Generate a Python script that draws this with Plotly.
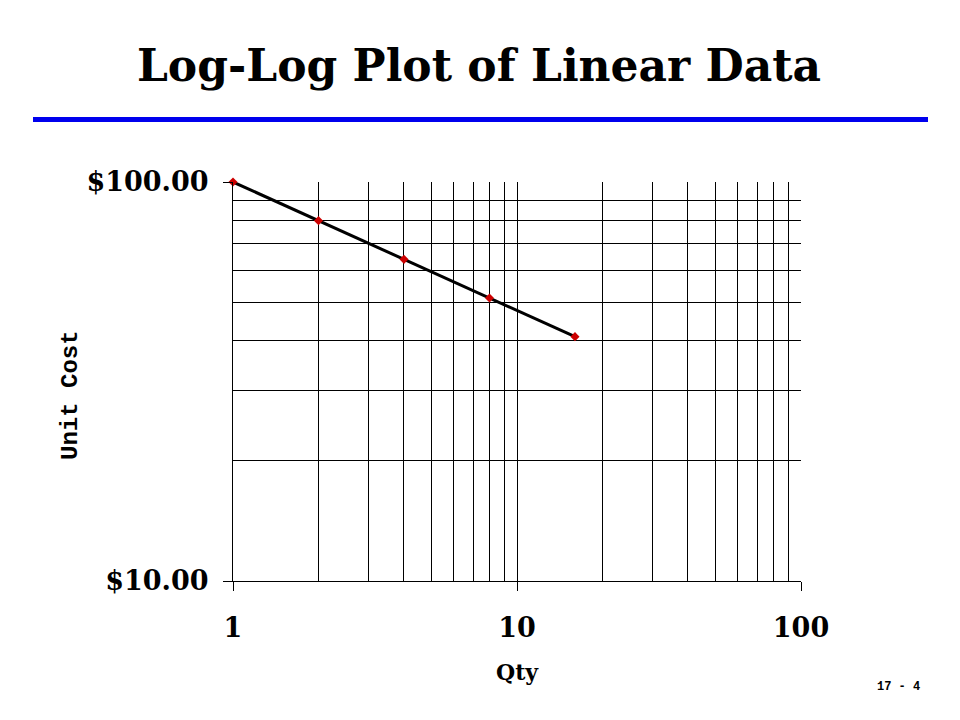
import plotly.graph_objects as go

qty = [1, 2, 4, 8, 16]
unit_cost = [100, 80, 64, 51.2, 40.96]
x_major = [1, 10, 100]
x_major_text = ["1", "10", "100"]
y_major = [10, 100]
y_major_text = ["$10.00", "$100.00"]
x_minor = [2, 3, 4, 5, 6, 7, 8, 9, 20, 30, 40, 50, 60, 70, 80, 90]
y_minor = [20, 30, 40, 50, 60, 70, 80, 90]

SERIF = "DejaVu Serif"
MONO = "Liberation Mono"
OFF = 8  # page body offset

L, R, T, B = 233 - OFF, 801 - OFF, 182 - OFF, 581 - OFF
W, H = R - L, B - T


def px(xp):
    return (xp - OFF - L) / W


def py(yp):
    return (B - (yp - OFF)) / H


fig = go.Figure()
fig.add_trace(go.Scatter(
    x=qty, y=unit_cost, mode="lines+markers",
    line=dict(color="black", width=3),
    marker=dict(symbol="diamond", size=7, color="#cc0000"),
    showlegend=False, cliponaxis=False,
))

axis_common = dict(
    type="log", ticks="outside", ticklen=9, tickcolor="black", tickwidth=1,
    showline=True, linecolor="black", linewidth=1,
    showgrid=True, gridcolor="black", gridwidth=1,
    tickfont=dict(family=SERIF, size=27, color="black", weight="bold"),
    zeroline=False,
)

fig.update_layout(
    width=960, height=720,
    paper_bgcolor="white", plot_bgcolor="white",
    margin=dict(l=L, r=960 - R, t=T, b=720 - B),
    title=dict(text="<b>Log-Log Plot of Linear Data</b>",
               x=(479 - OFF) / 960, xanchor="center", y=1 - (66 - OFF) / 720,
               yanchor="middle", yref="container",
               font=dict(family=SERIF, size=44, color="black")),
    xaxis=dict(range=[0, 2], tickvals=x_major, ticktext=x_major_text,
               ticklabelstandoff=14,
               minor=dict(tickvals=x_minor, showgrid=True, gridcolor="black",
                          gridwidth=1, ticks=""),
               **axis_common),
    yaxis=dict(range=[1, 2], tickvals=y_major, ticktext=y_major_text,
               ticklabelstandoff=9,
               minor=dict(tickvals=y_minor, showgrid=True, gridcolor="black",
                          gridwidth=1, ticks=""),
               **axis_common),
    shapes=[dict(type="line", xref="paper", yref="paper",
                 x0=px(33), x1=px(928), y0=py(119.5), y1=py(119.5),
                 line=dict(color="#0000ee", width=5))],
    annotations=[
        dict(text="<b>Unit Cost</b>", xref="paper", yref="paper",
             x=px(70), y=py(395), textangle=-90,
             showarrow=False, xanchor="center", yanchor="middle",
             font=dict(family=MONO, size=24, color="black")),
        dict(text="<b>Qty</b>", xref="paper", yref="paper",
             x=px(517), y=py(672),
             showarrow=False, xanchor="center", yanchor="middle",
             font=dict(family=SERIF, size=22, color="black")),
        dict(text="<b>17 - 4</b>", xref="paper", yref="paper",
             x=px(898), y=py(687),
             showarrow=False, xanchor="center", yanchor="middle",
             font=dict(family=MONO, size=12, color="black")),
    ],
)

fig.write_html("out.html")
